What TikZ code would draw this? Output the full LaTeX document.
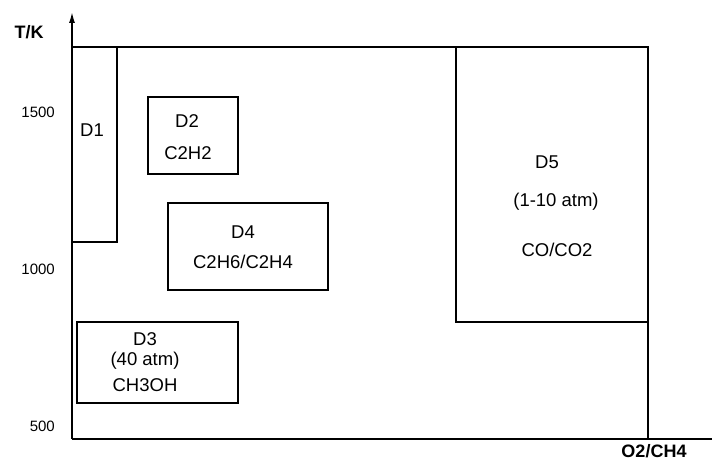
\documentclass[tikz,border=0pt]{standalone}
\usepackage{fontspec}
\setmainfont{Liberation Sans}
\usetikzlibrary{arrows.meta}

\tikzset{
  linie/.style={line width=1.4pt},
  beschr/.style={font=\fontsize{18.5}{21}\selectfont, inner sep=0pt},
  skala/.style={font=\fontsize{15}{17}\selectfont, inner sep=0pt, anchor=east},
  achse/.style={font=\bfseries\fontsize{18}{20}\selectfont, inner sep=0pt},
}

\begin{document}
\begin{tikzpicture}[x=1pt,y=-1pt]
    \useasboundingbox (0,0) rectangle (715,460);
    % Achsen
    \coordinate (ursprung) at (72,439);
    \coordinate (yspitze) at (72,12);
    \coordinate (xende) at (712,439);
    \draw[linie,-{Latex[length=11pt,width=6pt]}] (ursprung) -- (yspitze);
    \draw[linie] (ursprung) -- (xende);
    \node[achse] (tk) at (29,32) {T/K};
    \node[achse] (o2ch4) at (654,451) {O2/CH4};
    % Skala T
    \foreach \t/\y in {1500/112,1000/269,500/426}
        \node[skala] (t\t) at (55,\y) {\t};
    % Rahmen oben und rechts
    \draw[linie] (72,47) -- (648,47) -- (648,439);
    % Bereiche
    \draw[linie] (72,47) rectangle (117,242);
    \draw[linie] (148,97) rectangle (238,174);
    \draw[linie] (77,322) rectangle (238,403);
    \draw[linie] (168,203) rectangle (328,290);
    \draw[linie] (456,47) rectangle (648,322);
    % D1
    \node[beschr] (d1) at (92,130) {D1};
    % D2
    \node[beschr] (d2) at (187,121) {D2};
    \node[beschr] (d2stoff) at (188,153) {C2H2};
    % D3
    \node[beschr] (d3) at (145,339) {D3};
    \node[beschr] (d3druck) at (145,361) {(40 atm)};
    \node[beschr] (d3stoff) at (145,385) {CH3OH};
    % D4
    \node[beschr] (d4) at (243,232) {D4};
    \node[beschr] (d4stoff) at (243,262) {C2H6/C2H4};
    % D5
    \node[beschr] (d5) at (547,162) {D5};
    \node[beschr] (d5druck) at (556,202) {(1-10 atm)};
    \node[beschr] (d5stoff) at (557,250) {CO/CO2};
\end{tikzpicture}
\end{document}
